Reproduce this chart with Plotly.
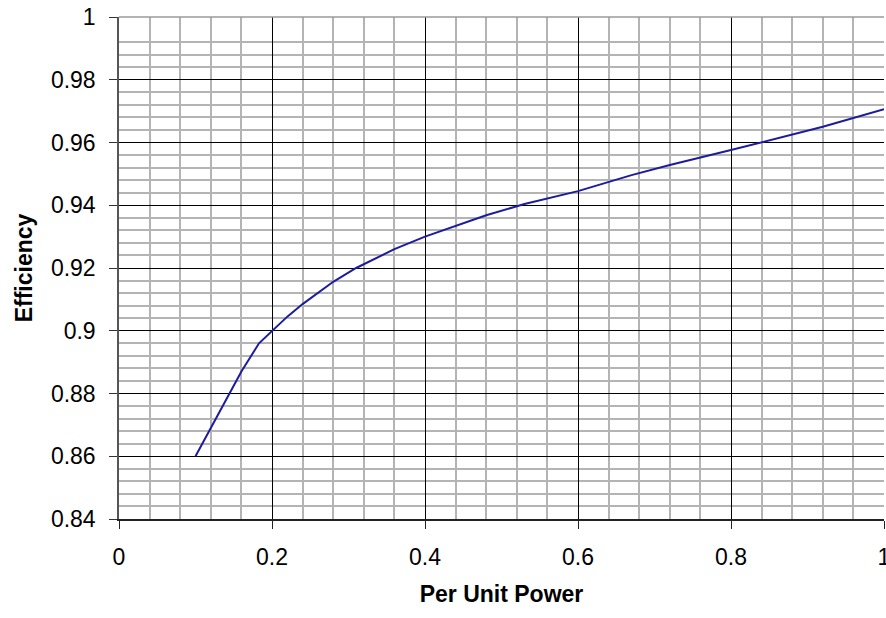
import plotly.graph_objects as go

# Data
per_unit_power = [0.10, 0.13, 0.16, 0.183, 0.20, 0.22, 0.24, 0.28, 0.31, 0.36, 0.40,
                  0.44, 0.48, 0.53, 0.56, 0.60, 0.67, 0.72, 0.80, 0.84, 0.92, 1.00]
efficiency = [0.860, 0.8735, 0.887, 0.896, 0.900, 0.9045, 0.9085, 0.9156, 0.920, 0.926, 0.930,
              0.9335, 0.9368, 0.9404, 0.9422, 0.9445, 0.9496, 0.9528, 0.9576, 0.960, 0.965, 0.9706]

x_ticks = [0, 0.2, 0.4, 0.6, 0.8, 1.0]
x_labels = ["0", "0.2", "0.4", "0.6", "0.8", "1"]
y_ticks = [0.84, 0.86, 0.88, 0.90, 0.92, 0.94, 0.96, 0.98, 1.0]
y_labels = ["0.84", "0.86", "0.88", "0.9", "0.92", "0.94", "0.96", "0.98", "1"]

x_minor = [round(i * 0.04, 3) for i in range(26) if i % 5 != 0]
y_minor = [round(0.84 + i * 0.004, 4) for i in range(41) if i % 5 != 0 and i != 39]

fig = go.Figure()
fig.add_trace(go.Scatter(
    x=per_unit_power, y=efficiency, mode="lines",
    line=dict(color="#1c1c9c", width=2),
    showlegend=False, hoverinfo="skip",
))

font = dict(family="Liberation Sans, Arial, sans-serif", size=23, color="#000000")

fig.update_layout(
    width=886, height=618, autosize=False,
    margin=dict(l=119, r=2, t=17, b=99),
    paper_bgcolor="white", plot_bgcolor="white",
    font=font,
    xaxis=dict(
        range=[0, 1], tickvals=x_ticks, ticktext=x_labels,
        showgrid=True, gridcolor="#000000", gridwidth=1,
        minor=dict(tickvals=x_minor, showgrid=True, gridcolor="#b4b4b4", gridwidth=1.5),
        showline=True, linecolor="#222222", linewidth=1.5,
        ticks="outside", ticklen=8, tickcolor="#222222", tickwidth=1.2,
        ticklabelstandoff=9, ticklabeloverflow="allow", automargin=False,
        zeroline=False,
        title=dict(text="<b>Per Unit Power</b>", font=dict(size=23), standoff=17),
        tickfont=dict(size=23),
    ),
    yaxis=dict(
        range=[0.84, 1.0], tickvals=y_ticks, ticktext=y_labels,
        showgrid=True, gridcolor="#000000", gridwidth=1,
        minor=dict(tickvals=y_minor, showgrid=True, gridcolor="#b4b4b4", gridwidth=1.5),
        showline=True, linecolor="#555555", linewidth=1.5,
        ticks="outside", ticklen=8, tickcolor="#333333", tickwidth=1.2,
        ticklabelstandoff=9, ticklabeloverflow="allow", automargin=False,
        zeroline=False,
        title=dict(text="<b>Efficiency</b>", font=dict(size=23), standoff=12),
        tickfont=dict(size=23),
    ),
    shapes=[dict(type="line", xref="paper", yref="paper", x0=0, x1=1, y0=1, y1=1,
                 line=dict(color="#9a9a9a", width=1.5), layer="above")],
)

fig.write_html(
    "out.html",
    config={"responsive": False, "displayModeBar": False},
    post_script="document.body.style.margin='0px';document.body.style.overflow='hidden';",
)
